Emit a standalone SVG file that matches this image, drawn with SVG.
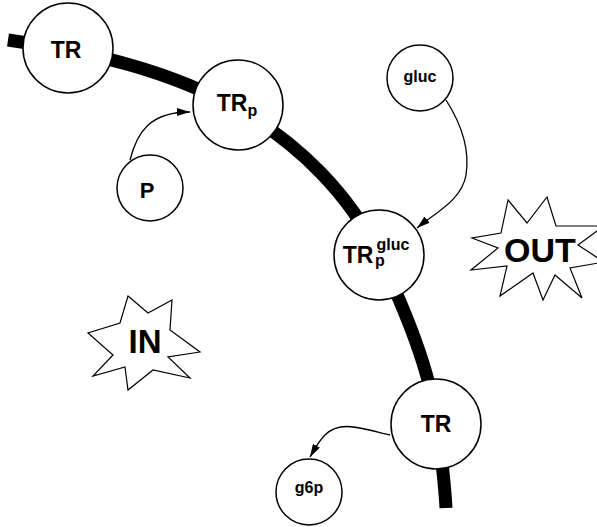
<svg xmlns="http://www.w3.org/2000/svg" width="597" height="527" viewBox="0 0 597 527">
<defs>
<style>
.node{fill:#fff;stroke:#000;stroke-width:1.5}
.lbl{font-family:"Liberation Sans",Arial,sans-serif;font-weight:bold;fill:#000;text-anchor:middle}
.conn{fill:none;stroke:#000;stroke-width:1.3}
.star{fill:#fff;stroke:#000;stroke-width:1.2;stroke-linejoin:miter}
</style>
<marker id="ah" markerWidth="13" markerHeight="8" refX="13" refY="4" orient="auto" markerUnits="userSpaceOnUse">
<path d="M0,0 L13,4 L0,8 z" fill="#000"/>
</marker>
</defs>
<rect width="597" height="527" fill="#fff"/>
<g id="membrane">
<path d="M8,40 C90,52 170,70 240,110 C300,145 350,195 379,255 C405,310 430,370 437,424 C442,460 445,490 446,508" fill="none" stroke="#000" stroke-width="13"/>
</g>
<g id="connectors">
<path class="conn" d="M130,160 C137,132 150,112 190,112" marker-end="url(#ah)"/>
<path class="conn" d="M446,100 C462,125 470,150 466,175 C462,200 435,213 417,228" marker-end="url(#ah)"/>
<path class="conn" d="M390,435 C360,428 340,420 325,435 C318,442 314,450 310,457" marker-end="url(#ah)"/>
</g>
<g id="out">
<polygon class="star" points="508,200 527,223 547,197 556,226 604,226 578,245 604,262 570,268 582,298 555,275 543,300 533,273 500,296 507,266 471,270 498,248 472,238 501,233"/>
<text class="lbl" x="540" y="262" font-size="34">OUT</text>
</g>
<g id="in">
<polygon class="star" points="128,296 148,313 172,300 170,330 200,352 168,357 190,378 153,370 128,390 125,367 93,376 113,355 88,333 120,323"/>
<text class="lbl" x="145" y="353" font-size="33">IN</text>
</g>
<g id="tr1">
<circle class="node" cx="68" cy="48" r="45"/>
<text class="lbl" x="66" y="58" font-size="23">TR</text>
</g>
<g id="trp">
<circle class="node" cx="238" cy="105" r="45"/>
<text class="lbl" x="237" y="111" font-size="23"><tspan>TR</tspan><tspan font-size="16" dy="5">p</tspan></text>
</g>
<g id="p">
<circle class="node" cx="150" cy="188" r="33"/>
<text class="lbl" x="147" y="198" font-size="22">P</text>
</g>
<g id="gluc">
<circle class="node" cx="420" cy="78" r="33"/>
<text class="lbl" x="420" y="82" font-size="16">gluc</text>
</g>
<g id="trpgluc">
<circle class="node" cx="379" cy="255" r="45"/>
<text class="lbl" x="358" y="263" font-size="23">TR</text>
<text class="lbl" x="393" y="250" font-size="16">gluc</text>
<text class="lbl" x="380" y="266" font-size="16">p</text>
</g>
<g id="tr2">
<circle class="node" cx="436" cy="424" r="45"/>
<text class="lbl" x="436" y="432" font-size="23">TR</text>
</g>
<g id="g6p">
<circle class="node" cx="309" cy="492" r="33"/>
<text class="lbl" x="309" y="493" font-size="16">g6p</text>
</g>
</svg>
